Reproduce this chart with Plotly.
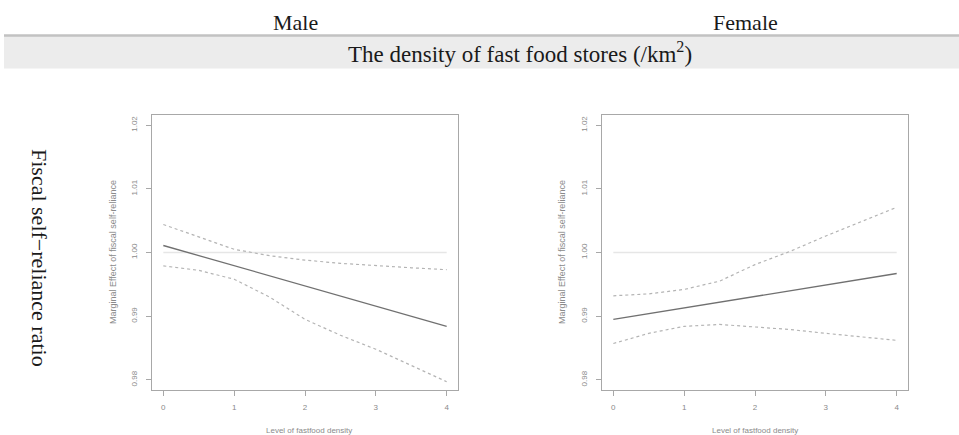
import plotly.graph_objects as go

# ---- data ----
density = [0, 0.5, 1, 1.5, 2, 2.5, 3, 3.5, 4]
fit_x = [0, 4]

male_fit = [1.0011, 0.9884]
male_upper = [1.0044, 1.0025, 1.0005, 0.9995, 0.9988, 0.9983, 0.9979, 0.9976, 0.9973]
male_lower = [0.9979, 0.9972, 0.9958, 0.9930, 0.9895, 0.9870, 0.9848, 0.9822, 0.9797]

female_fit = [0.9895, 0.9967]
female_upper = [0.9932, 0.9935, 0.9942, 0.9955, 0.9981, 1.0002, 1.0026, 1.0049, 1.0071]
female_lower = [0.9857, 0.9873, 0.9884, 0.9887, 0.9883, 0.9879, 0.9873, 0.9868, 0.9862]

x_ticks = [0, 1, 2, 3, 4]
y_ticks = [0.98, 0.99, 1.00, 1.01, 1.02]
y_ticklabels = ["0.98", "0.99", "1.00", "1.01", "1.02"]
ref_x = [0, 4]
ref_y = [1.0, 1.0]

col_headers = ["Male", "Female"]
band_title = "The density of fast food stores (/km<sup>2</sup>)"
row_label = "Fiscal self\u2212reliance ratio"
x_title = "Level of fastfood density"
y_title = "Marginal Effect of fiscal self-reliance"

W, H = 959, 435
fig = go.Figure()

panels = [
    ("x", "y", male_fit, male_upper, male_lower),
    ("x2", "y2", female_fit, female_upper, female_lower),
]
for xa, ya, fy, up, lo in panels:
    fig.add_trace(go.Scatter(x=ref_x, y=ref_y, mode="lines", xaxis=xa, yaxis=ya,
                             line=dict(color="#e6e6e6", width=1.5), showlegend=False))
    fig.add_trace(go.Scatter(x=density, y=up, mode="lines", xaxis=xa, yaxis=ya,
                             line=dict(color="#b4b4b4", width=1.2, dash="dot"), showlegend=False))
    fig.add_trace(go.Scatter(x=density, y=lo, mode="lines", xaxis=xa, yaxis=ya,
                             line=dict(color="#b4b4b4", width=1.2, dash="dot"), showlegend=False))
    fig.add_trace(go.Scatter(x=fit_x, y=fy, mode="lines", xaxis=xa, yaxis=ya,
                             line=dict(color="#707070", width=1.3), showlegend=False))


def px(v):
    return v / W


def py(v):
    return 1 - v / H


ydom = [py(390), py(115)]
axis_common = dict(showline=True, mirror=True, linecolor="#a8a8a8", linewidth=1.2,
                   showgrid=False, zeroline=False, ticks="outside", ticklen=5,
                   tickcolor="#a8a8a8",
                   tickfont=dict(size=8, color="#8a8a8a", family="Liberation Sans"))
xr = [-0.16, 4.16]
yr = [0.9784, 1.0216]
fig.update_layout(
    width=W, height=H, margin=dict(l=0, r=0, t=0, b=0),
    paper_bgcolor="white", plot_bgcolor="white",
    xaxis=dict(domain=[px(152), px(458)], range=xr, tickvals=x_ticks, anchor="y",
               ticklabelstandoff=4, **axis_common),
    yaxis=dict(domain=ydom, range=yr, tickvals=y_ticks, ticktext=y_ticklabels, tickangle=-90,
               anchor="x", ticklabelstandoff=6, **axis_common),
    xaxis2=dict(domain=[px(602), px(908)], range=xr, tickvals=x_ticks, anchor="y2",
                ticklabelstandoff=4, **axis_common),
    yaxis2=dict(domain=ydom, range=yr, tickvals=y_ticks, ticktext=y_ticklabels, tickangle=-90,
                anchor="x2", ticklabelstandoff=6, **axis_common),
)

# header band and line
fig.add_shape(type="rect", xref="paper", yref="paper", x0=px(4), x1=1, y0=py(68.5), y1=py(36),
              fillcolor="#ececec", line=dict(width=0), layer="below")
fig.add_shape(type="line", xref="paper", yref="paper", x0=px(4), x1=1, y0=py(35.5), y1=py(35.5),
              line=dict(color="#c2c2c2", width=2.5))

serif = "Liberation Serif"
black = "#1a1a1a"


def note(x, y, text, size, family, color, angle=0):
    fig.add_annotation(x=px(x), y=py(y), xref="paper", yref="paper", text=text,
                       textangle=angle, showarrow=False, xanchor="center", yanchor="middle",
                       font=dict(family=family, size=size, color=color))


note(295, 22, col_headers[0], 22, serif, black)
note(745, 22, col_headers[1], 22, serif, black)
note(520, 53, band_title, 23, serif, black)
note(40, 258, row_label, 22, serif, black, angle=90)

for cx, ytx in [(309, 113), (755, 562)]:
    note(cx, 430, x_title, 8, "Liberation Sans", "#8a8a8a")
    note(ytx, 252, y_title, 9, "Liberation Sans", "#8a8a8a", angle=-90)

fig.write_html("out.html")
